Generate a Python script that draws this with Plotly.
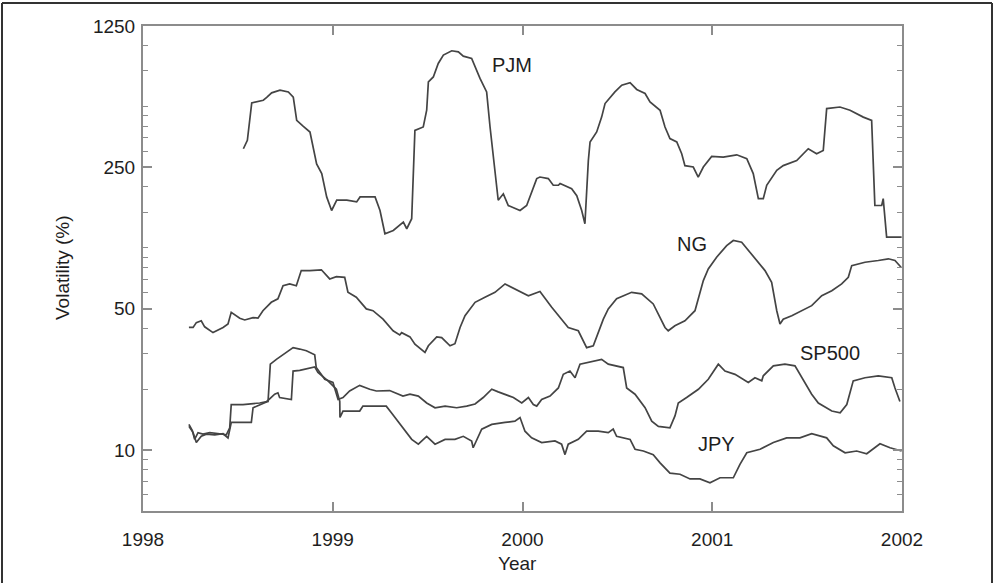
import plotly.graph_objects as go
import math

# ---------------- data (decimal year, volatility %) ----------------
pjm_year = [1998.529, 1998.550, 1998.573, 1998.634, 1998.652, 1998.678, 1998.722, 1998.766, 1998.792,
            1998.810, 1998.845, 1998.880, 1998.915, 1998.942, 1998.968, 1998.994, 1999.021, 1999.074,
            1999.126, 1999.144, 1999.223, 1999.249, 1999.275, 1999.319, 1999.372, 1999.390, 1999.416,
            1999.433, 1999.477, 1999.495, 1999.504, 1999.530, 1999.556, 1999.583, 1999.627, 1999.662,
            1999.688, 1999.732, 1999.776, 1999.811, 1999.829, 1999.872, 1999.899, 1999.925, 1999.987,
            2000.022, 2000.075, 2000.092, 2000.136, 2000.162, 2000.189, 2000.198, 2000.259, 2000.286,
            2000.312, 2000.329, 2000.347, 2000.356, 2000.391, 2000.417, 2000.435, 2000.487, 2000.523,
            2000.567, 2000.602, 2000.646, 2000.672, 2000.725, 2000.751, 2000.777, 2000.813, 2000.839,
            2000.856, 2000.900, 2000.926, 2000.953, 2000.997, 2001.058, 2001.129, 2001.182, 2001.216,
            2001.243, 2001.269, 2001.287, 2001.340, 2001.374, 2001.445, 2001.506, 2001.550, 2001.585,
            2001.603, 2001.673, 2001.726, 2001.796, 2001.840, 2001.857, 2001.893, 2001.901, 2001.919,
            2001.998]
pjm_vol = [309, 340, 521, 537, 554, 584, 602, 590, 556,
           427, 399, 374, 260, 233, 178.6, 153, 172, 172,
           168.7, 178.6, 178.6, 153, 117.4, 121.9, 134, 124.3, 139.3,
           381, 396, 479, 661, 700, 816, 898, 943, 932,
           887, 864, 688, 590, 396, 172, 185, 162, 153,
           162, 220, 224, 220, 204, 204, 208, 196, 181,
           153, 131.6, 270, 334, 374, 443, 517, 590, 637,
           656, 607, 580, 527, 479, 396, 347, 334, 292,
           255, 251, 224, 251, 283, 281, 288.5, 276, 233,
           175, 175, 204, 242, 255, 270, 309, 292, 303,
           488, 497, 479, 443, 427, 162, 162, 175, 112.9,
           112.9]

ng_year = [1998.242, 1998.264, 1998.281, 1998.307, 1998.325, 1998.369, 1998.422, 1998.448, 1998.465,
           1998.510, 1998.536, 1998.580, 1998.606, 1998.632, 1998.676, 1998.711, 1998.738, 1998.773,
           1998.808, 1998.834, 1998.879, 1998.940, 1998.984, 1999.019, 1999.063, 1999.080, 1999.124,
           1999.177, 1999.212, 1999.265, 1999.318, 1999.353, 1999.363, 1999.407, 1999.433, 1999.486,
           1999.504, 1999.548, 1999.574, 1999.618, 1999.644, 1999.671, 1999.697, 1999.750, 1999.802,
           1999.855, 1999.908, 1999.960, 2000.031, 2000.092, 2000.154, 2000.241, 2000.294, 2000.338,
           2000.373, 2000.426, 2000.452, 2000.496, 2000.575, 2000.628, 2000.689, 2000.751, 2000.768,
           2000.803, 2000.856, 2000.909, 2000.953, 2000.979, 2001.023, 2001.076, 2001.111, 2001.155,
           2001.190, 2001.234, 2001.278, 2001.313, 2001.340, 2001.357, 2001.374, 2001.419, 2001.471,
           2001.524, 2001.577, 2001.630, 2001.682, 2001.717, 2001.735, 2001.805, 2001.875, 2001.928,
           2001.963, 2001.980, 2001.995]
ng_vol = [40.4, 40.4, 42.7, 43.6, 40.7, 38.1, 40.4, 42.0, 48.0,
          44.9, 44.0, 45.2, 44.9, 48.9, 53.8, 56.0, 65.0, 66.3,
          65.0, 77.2, 77.2, 77.9, 70.2, 72.1, 71.5, 60.3, 57.0,
          49.9, 48.9, 44.4, 38.9, 37.1, 38.1, 36.3, 33.4, 30.4,
          32.8, 36.3, 36.0, 32.8, 33.6, 40.4, 46.2, 53.8, 57.0,
          60.3, 66.3, 62.6, 58.0, 60.8, 50.8, 40.4, 38.9, 32.1,
          32.8, 44.4, 49.9, 56.0, 60.3, 59.2, 52.8, 40.4, 38.9,
          41.2, 43.6, 48.9, 68.9, 78.7, 89.9, 102.6, 108.7, 106.7,
          97.0, 86.6, 77.2, 67.6, 48.9, 42.0, 44.4, 46.2, 48.9,
          51.8, 58.0, 61.4, 66.3, 71.5, 81.7, 84.9, 86.6, 88.3,
          86.6, 83.4, 80.2]

sp500_year = [1998.242, 1998.260, 1998.272, 1998.290, 1998.316, 1998.352, 1998.404, 1998.439, 1998.457,
              1998.465, 1998.527, 1998.580, 1998.615, 1998.659, 1998.671, 1998.703, 1998.738, 1998.791,
              1998.826, 1998.861, 1998.905, 1998.913, 1998.958, 1999.001, 1999.028, 1999.054, 1999.089,
              1999.142, 1999.195, 1999.230, 1999.300, 1999.370, 1999.407, 1999.451, 1999.495, 1999.539,
              1999.592, 1999.653, 1999.706, 1999.750, 1999.793, 1999.838, 1999.872, 1999.908, 1999.952,
              1999.996, 2000.031, 2000.057, 2000.075, 2000.101, 2000.145, 2000.189, 2000.215, 2000.250,
              2000.277, 2000.303, 2000.347, 2000.417, 2000.452, 2000.531, 2000.549, 2000.593, 2000.646,
              2000.681, 2000.716, 2000.777, 2000.804, 2000.821, 2000.865, 2000.927, 2000.979, 2001.032,
              2001.067, 2001.120, 2001.190, 2001.225, 2001.261, 2001.269, 2001.322, 2001.383, 2001.436,
              2001.471, 2001.524, 2001.559, 2001.630, 2001.674, 2001.709, 2001.743, 2001.805, 2001.875,
              2001.946, 2001.963, 2001.989]
sp500_vol = [13.4, 12.5, 11.3, 12.2, 12.0, 12.2, 12.05, 11.9, 12.9,
             16.8, 16.8, 16.9, 17.1, 17.4, 26.6, 28.1, 29.6, 32.1,
             31.6, 31.0, 29.6, 25.6, 22.4, 21.6, 17.8, 18.2, 19.6,
             20.9, 20.0, 19.6, 19.7, 18.5, 18.9, 18.5, 17.1, 16.2,
             16.5, 16.2, 16.5, 16.9, 18.2, 20.0, 19.4, 18.9, 18.2,
             17.1, 18.2, 16.8, 16.5, 17.8, 18.5, 20.3, 23.7, 24.6,
             22.8, 26.6, 27.1, 28.1, 26.6, 25.6, 20.3, 18.9, 16.2,
             13.9, 13.1, 12.9, 14.8, 17.1, 18.2, 20.0, 22.4, 26.6,
             24.6, 23.7, 21.6, 22.8, 22.0, 23.3, 26.1, 26.6, 26.1,
             22.8, 18.9, 17.1, 15.6, 15.3, 16.8, 22.0, 22.8, 23.3,
             22.8, 20.3, 17.4]

jpy_year = [1998.242, 1998.264, 1998.281, 1998.307, 1998.334, 1998.378, 1998.422, 1998.448, 1998.465,
            1998.571, 1998.580, 1998.615, 1998.650, 1998.694, 1998.711, 1998.720, 1998.782, 1998.791,
            1998.826, 1998.905, 1998.922, 1998.975, 1999.019, 1999.037, 1999.038, 1999.054, 1999.142,
            1999.159, 1999.282, 1999.309, 1999.335, 1999.370, 1999.416, 1999.451, 1999.495, 1999.539,
            1999.592, 1999.644, 1999.688, 1999.732, 1999.740, 1999.785, 1999.838, 1999.908, 1999.960,
            1999.987, 2000.013, 2000.048, 2000.101, 2000.171, 2000.206, 2000.224, 2000.241, 2000.294,
            2000.338, 2000.399, 2000.452, 2000.478, 2000.496, 2000.567, 2000.593, 2000.637, 2000.689,
            2000.725, 2000.777, 2000.830, 2000.883, 2000.935, 2000.988, 2001.041, 2001.111, 2001.146,
            2001.182, 2001.252, 2001.322, 2001.392, 2001.462, 2001.524, 2001.568, 2001.603, 2001.638,
            2001.700, 2001.761, 2001.814, 2001.884, 2001.937, 2001.998]
jpy_vol = [13.1, 12.2, 10.9, 11.7, 12.0, 11.9, 12.05, 11.5, 13.7,
           13.7, 16.2, 16.7, 17.3, 18.9, 19.2, 18.2, 17.8, 24.6,
           24.8, 25.8, 24.2, 22.0, 20.0, 17.4, 14.5, 15.6, 15.6,
           16.5, 16.5, 15.3, 14.2, 12.9, 11.3, 10.7, 11.7, 10.7,
           11.3, 11.3, 11.7, 11.1, 10.27, 12.7, 13.4, 13.7, 13.9,
           14.5, 12.4, 11.5, 10.9, 11.1, 10.7, 9.5, 10.7, 11.3,
           12.4, 12.4, 12.2, 12.7, 11.7, 11.3, 10.1, 9.9, 9.5,
           8.65, 7.7, 7.6, 7.2, 7.2, 6.9, 7.3, 7.3, 8.5,
           9.7, 10.1, 10.9, 11.5, 11.5, 12.05, 11.7, 11.5, 10.5,
           9.7, 9.9, 9.6, 10.75, 10.27, 9.9]

series_names = ["PJM", "NG", "SP500", "JPY"]
label_year = [1999.945, 2000.893, 2001.62, 2001.025]
label_vol = [800, 105, 30.2, 10.7]

x_ticks = [1998, 1999, 2000, 2001, 2002]
y_ticks = [10, 50, 250, 1250]
y_minor = [6, 7, 8, 9, 20, 30, 40, 60, 70, 80, 90, 100, 150, 200,
           300, 350, 400, 450, 500, 750, 1000]

# ---------------- figure ----------------
LINE = "#444444"
AXIS = "#8c8c8c"
TXT = "#1e1e1e"
FONT = "Liberation Sans, Arial, Helvetica, sans-serif"

fig = go.Figure()
for xs, ys in [(pjm_year, pjm_vol), (ng_year, ng_vol), (sp500_year, sp500_vol), (jpy_year, jpy_vol)]:
    fig.add_trace(go.Scatter(x=xs, y=ys, mode="lines",
                             line=dict(color=LINE, width=1.7), showlegend=False,
                             hoverinfo="skip"))

for name, lx, ly in zip(series_names, label_year, label_vol):
    fig.add_annotation(x=lx, y=math.log10(ly), xref="x", yref="y", text=name,
                       showarrow=False, xanchor="center", yanchor="middle",
                       font=dict(family=FONT, size=20, color=TXT))

W, H = 993, 583
L, R, T, B = 143, 902, 26, 511
pw, ph = R - L, B - T

def px2paper_x(px):
    return (px - L) / pw

def px2paper_y(py):
    return (B - py) / ph

# axis titles
fig.add_annotation(x=px2paper_x(517), y=px2paper_y(563), xref="paper", yref="paper",
                   xanchor="center", yanchor="middle",
                   text="Year", showarrow=False, font=dict(family=FONT, size=19, color=TXT))
fig.add_annotation(x=px2paper_x(62), y=px2paper_y(268), xref="paper", yref="paper",
                   xanchor="center", yanchor="middle",
                   text="Volatility (%)", textangle=-90, showarrow=False,
                   font=dict(family=FONT, size=19, color=TXT))

# outer frame of the picture
frame = dict(color="#333333", width=2)
fig.add_shape(type="line", xref="paper", yref="paper", x0=px2paper_x(2), x1=px2paper_x(2),
              y0=px2paper_y(3), y1=px2paper_y(600), line=frame)
fig.add_shape(type="line", xref="paper", yref="paper", x0=px2paper_x(2), x1=px2paper_x(992),
              y0=px2paper_y(3), y1=px2paper_y(3), line=frame)
fig.add_shape(type="line", xref="paper", yref="paper", x0=px2paper_x(992), x1=px2paper_x(992),
              y0=px2paper_y(3), y1=px2paper_y(600), line=frame)

fig.update_layout(
    width=W, height=H,
    margin=dict(l=L, r=W - R, t=T, b=H - B),
    paper_bgcolor="white", plot_bgcolor="white",
    font=dict(family=FONT, size=19, color=TXT),
    showlegend=False,
)
fig.update_xaxes(range=[1998, 2002], tickvals=x_ticks, ticktext=[str(v) for v in x_ticks],
                 ticks="inside", ticklen=9, tickwidth=1.5, tickcolor=AXIS,
                 showline=True, linecolor=AXIS, linewidth=2, mirror="allticks",
                 showgrid=False, zeroline=False, ticklabelstandoff=10,
                 tickfont=dict(family=FONT, size=19, color=TXT))
fig.update_yaxes(type="log", range=[math.log10(5), math.log10(1250)],
                 tickvals=y_ticks, ticktext=[str(v) for v in y_ticks],
                 ticks="inside", ticklen=9, tickwidth=1.5, tickcolor=AXIS,
                 minor=dict(tickvals=y_minor, ticks="inside", ticklen=5, tickcolor=AXIS, tickwidth=1,
                            showgrid=False),
                 showline=True, linecolor=AXIS, linewidth=2, mirror="allticks",
                 showgrid=False, zeroline=False, ticklabelstandoff=2,
                 tickfont=dict(family=FONT, size=19, color=TXT))

fig.write_html("out.html", config={"displayModeBar": False},
               post_script="document.body.style.margin='0';document.body.style.overflow='hidden';")
